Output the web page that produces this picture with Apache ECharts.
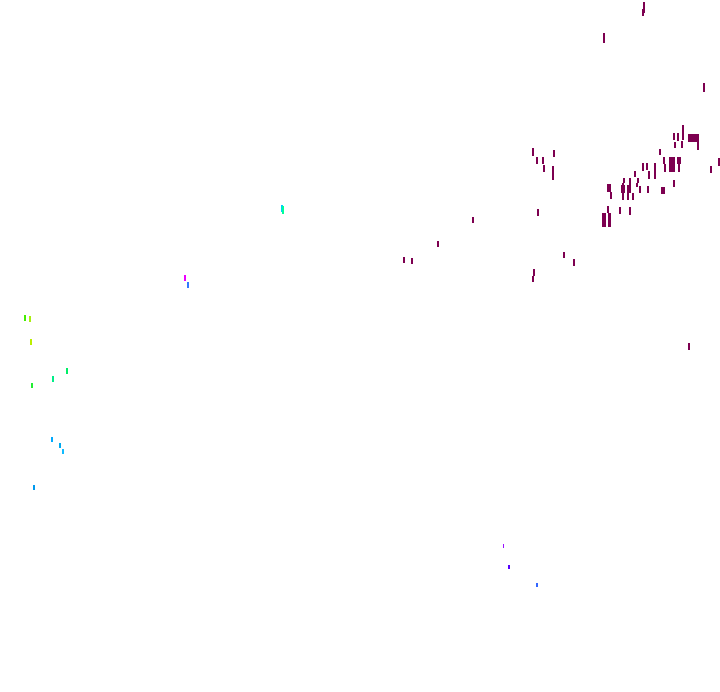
<!DOCTYPE html>
<html>
<head>
<meta charset="utf-8">
<script src="https://cdn.jsdelivr.net/npm/echarts@6/dist/echarts.min.js"></script>
<style>html,body{margin:0;padding:0;background:#fff}#c{width:720px;height:692px}</style>
</head>
<body>
<div id="c"></div>
<script>
// Mark data: left x, top y, width, height (in chart data units), colour
var xLeft = [532,536,553,542,543,552,552,537,682,673,677,688,697,674,681,659,663,664,669,677,678,718,710,642,646,654,648,654,634,637,636,623,622,629,607,610,621,622,627,627,632,639,647,661,673,607,619,629,602,608,643,642,603,703,472,437,403,411,563,573,533,532,688,
             24,29,30,66,52,31,51,59,62,33,281,282,184,187,503,508,536];
var yTop = [148,157,150,157,165,166,173,209,125,133,133,134,142,142,141,149,157,164,157,157,164,158,166,163,163,163,171,171,171,178,183,178,183,178,184,192,185,193,185,193,193,186,186,187,180,206,207,207,213,213,2,9,33,83,217,241,257,258,252,259,269,276,343,
            315,316,339,368,376,383,437,443,449,485,205,206,275,282,544,565,583];
var widths = [2,2,2,2,2,2,2,2,2,2,2,11,2,2,2,2,2,2,6,4,2,2,2,2,2,2,2,2,2,2,2,2,2,2,4,2,4,2,4,2,2,2,2,4,2,2,2,2,4,3,2,2,2,2,2,2,2,2,2,2,2,2,2,
              2,2,2,2,2,2,2,2,2,2,2,2,2,2,1,2,2];
var heights = [8,7,7,7,7,7,7,7,15,7,8,8,8,6,7,6,7,8,15,7,8,8,7,8,7,8,8,8,6,5,4,5,5,7,8,7,8,7,8,7,7,7,7,7,7,7,7,8,14,14,11,7,10,9,6,6,6,6,6,7,7,6,7,
               6,6,6,6,6,5,5,5,5,5,7,8,6,6,4,4,4];
var P = '#7d0050';
var colors = [];
for (var i = 0; i < 63; i++) colors.push(P);
colors = colors.concat(['#44ee00','#aaee11','#bbee00','#00ee66','#00ee88','#22ee33','#00aaff','#00aaee','#11bbff','#0099ee','#00ccff','#00ff99','#ee00ff','#3377ff','#9911ff','#5500ff','#3366ff']);

var data = xLeft.map(function (x, i) {
  return {
    value: [x + widths[i] / 2, yTop[i] + heights[i] / 2],
    symbolSize: [widths[i], heights[i]],
    itemStyle: { color: colors[i] }
  };
});

var chart = echarts.init(document.getElementById('c'), null, { renderer: 'canvas' });
chart.setOption({
  backgroundColor: '#ffffff',
  animation: false,
  grid: { left: 0, right: 0, top: 0, bottom: 0 },
  xAxis: { type: 'value', min: 0, max: 720, show: false },
  yAxis: { type: 'value', min: 0, max: 692, inverse: true, show: false },
  series: [{
    type: 'scatter',
    symbol: 'rect',
    silent: true,
    itemStyle: { opacity: 1 },
    data: data
  }]
});
</script>
</body>
</html>
